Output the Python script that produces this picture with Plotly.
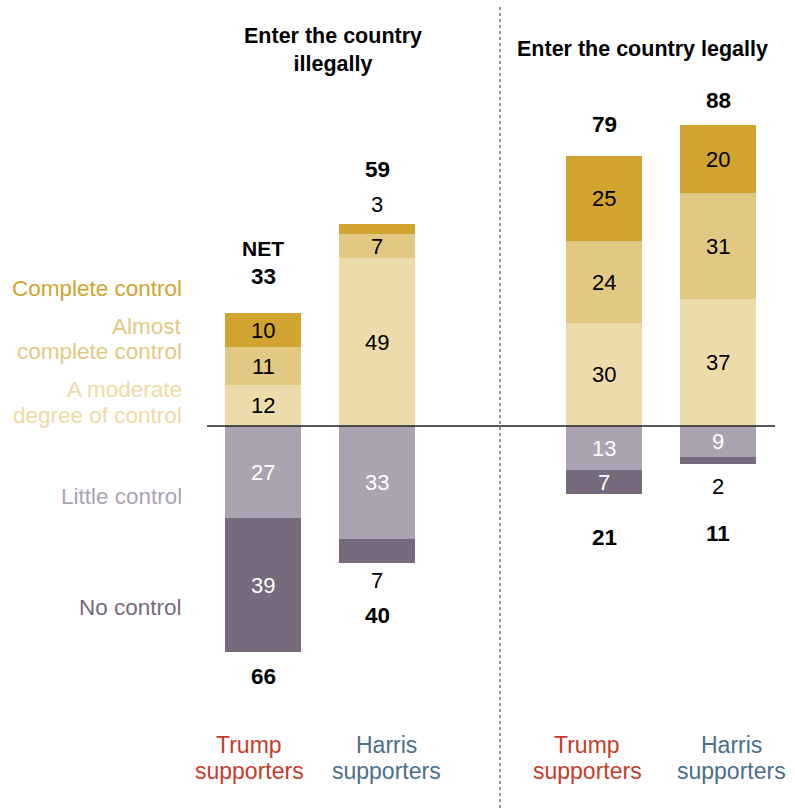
import plotly.graph_objects as go

# ---- data ----
groups = ["Trump supporters (illegally)", "Harris supporters (illegally)",
          "Trump supporters (legally)", "Harris supporters (legally)"]
moderate = [12, 49, 30, 37]
almost = [11, 7, 24, 31]
complete = [10, 3, 25, 20]
little = [27, 33, 13, 9]
no_control = [39, 7, 7, 2]
net_control = [33, 59, 79, 88]
net_no = [66, 40, 21, 11]
panel_titles = ["Enter the country<br>illegally", "Enter the country legally"]
supporter_names = ["Trump", "Harris", "Trump", "Harris"]

# ---- layout constants ----
W, H = 795, 808
BAR_X = [263, 377, 604, 718]
BAR_W = 76
PX_PER_UNIT = 3.42
ZERO_PX = 426
y_top = ZERO_PX / PX_PER_UNIT
y_bot = -(H - ZERO_PX) / PX_PER_UNIT

C_COMPLETE = "#D1A42F"
C_ALMOST = "#E2C983"
C_MODERATE = "#EDDCAB"
C_LITTLE = "#ABA3B2"
C_NO = "#776A7D"
C_TRUMP = "#C73B2A"
C_HARRIS = "#4A6F8B"

FONT = "Liberation Sans"

fig = go.Figure()
series = [
    ("A moderate degree of control", moderate, C_MODERATE, 1),
    ("Almost complete control", almost, C_ALMOST, 1),
    ("Complete control", complete, C_COMPLETE, 1),
    ("Little control", little, C_LITTLE, -1),
    ("No control", no_control, C_NO, -1),
]
for name, vals, col, sign in series:
    fig.add_trace(go.Bar(
        x=BAR_X, y=[sign * v for v in vals], name=name, width=BAR_W,
        marker=dict(color=col, line=dict(width=0)), showlegend=False,
        hoverinfo="skip"))

ann = []


def paper_text(txt, px, py, col, size, anchor="center", bold=False):
    if bold:
        txt = "<b>%s</b>" % txt
    ann.append(dict(x=px / W, y=1 - py / H, xref="paper", yref="paper", text=txt,
                    xanchor=anchor, yanchor="middle", showarrow=False,
                    font=dict(family=FONT, size=size, color=col)))


# segment labels
outside = {("Complete control", 1): 20, ("No control", 1): -18, ("No control", 3): -23}
pos_cum = [0] * 4
neg_cum = [0] * 4
for name, vals, col, sign in series:
    for i, v in enumerate(vals):
        if sign > 0:
            lo = pos_cum[i]; hi = lo + v; pos_cum[i] = hi
        else:
            lo = neg_cum[i]; hi = lo - v; neg_cum[i] = hi
        key = (name, i)
        txtcol = "#000000" if sign > 0 else "#FFFFFF"
        if key in outside:
            ann.append(dict(x=BAR_X[i], y=hi, xref="x", yref="y", text=str(v),
                            xanchor="center", showarrow=False, yshift=outside[key],
                            font=dict(family=FONT, size=22, color="#000000")))
        else:
            ann.append(dict(x=BAR_X[i], y=(lo + hi) / 2, xref="x", yref="y", text=str(v),
                            xanchor="center", showarrow=False,
                            font=dict(family=FONT, size=22, color=txtcol)))

# net totals
pos_shift = [37, 55, 31, 25]
neg_shift = [-25, -53, -40, -70]
for i in range(4):
    ann.append(dict(x=BAR_X[i], y=net_control[i], xref="x", yref="y",
                    text="<b>%d</b>" % net_control[i],
                    xanchor="center", showarrow=False, yshift=pos_shift[i],
                    font=dict(family=FONT, size=22.5, color="#000000")))
    ann.append(dict(x=BAR_X[i], y=-net_no[i], xref="x", yref="y", text="<b>%d</b>" % net_no[i],
                    xanchor="center", showarrow=False, yshift=neg_shift[i],
                    font=dict(family=FONT, size=22.5, color="#000000")))
ann.append(dict(x=BAR_X[0], y=net_control[0], xref="x", yref="y", text="<b>NET</b>",
                xanchor="center", showarrow=False, yshift=pos_shift[0] + 28,
                font=dict(family=FONT, size=21, color="#000000")))

# category legend labels at left
paper_text("Complete control", 184, 288, C_COMPLETE, 22.5, "right")
paper_text("Almost", 184, 326, "#E3C986", 22.5, "right")
paper_text("complete control", 184, 352, "#E3C986", 22.5, "right")
paper_text("A moderate", 184, 389, "#EEDBA8", 22.5, "right")
paper_text("degree of control", 184, 415, "#EEDBA8", 22.5, "right")
paper_text("Little control", 184, 496, C_LITTLE, 22.5, "right")
paper_text("No control", 184, 607, C_NO, 22.5, "right")

# panel titles
ann.append(dict(x=333 / W, y=1 - 50 / H, xref="paper", yref="paper", text="<b>%s</b>" % panel_titles[0],
                xanchor="center", showarrow=False, align="center", yanchor="middle",
                font=dict(family=FONT, size=21.5, color="#000000")))
paper_text(panel_titles[1], 642, 49, "#000000", 21.5, bold=True)

# supporter labels
lab_x = [249, 386, 587, 731]
lab_col = [C_TRUMP, C_HARRIS, C_TRUMP, C_HARRIS]
for i in range(4):
    paper_text(supporter_names[i], lab_x[i], 745, lab_col[i], 23)
    paper_text("supporters", lab_x[i], 771, lab_col[i], 23)

shapes = [
    dict(type="line", xref="x", yref="y", x0=207, x1=775, y0=0, y1=0,
         line=dict(color="#222222", width=1.5)),
    dict(type="line", xref="x", yref="paper", x0=500, x1=500, y0=0, y1=1 - 6 / H,
         line=dict(color="#9A9A9A", width=2, dash="dot")),
]

fig.update_layout(
    width=W, height=H, barmode="relative", bargap=0,
    margin=dict(l=0, r=0, t=0, b=0),
    paper_bgcolor="white", plot_bgcolor="white",
    xaxis=dict(range=[0, W], visible=False, fixedrange=True),
    yaxis=dict(range=[y_bot, y_top], visible=False, fixedrange=True),
    annotations=ann, shapes=shapes, showlegend=False,
)
fig.write_html("out.html", config={"displayModeBar": False},
               post_script="document.body.style.margin='0px';document.body.style.overflow='hidden';")
